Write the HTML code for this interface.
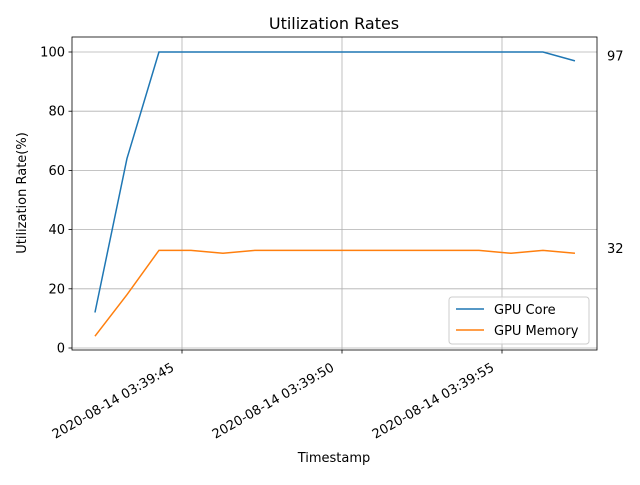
<!DOCTYPE html>
<html><head><meta charset="utf-8"><style>
body{margin:0;background:#fff;font-family:"Liberation Sans","DejaVu Sans",sans-serif;}
svg text{font-family:"DejaVu Sans","Liberation Sans",sans-serif;}
</style></head><body>
<svg id="c" width="640" height="480" xmlns="http://www.w3.org/2000/svg"></svg>
<script>
const seconds = [42.28,43.28,44.28,45.28,46.28,47.28,48.28,49.28,50.28,51.28,52.28,53.28,54.28,55.28,56.28,57.28];
const gpuCore = [12,64,100,100,100,100,100,100,100,100,100,100,100,100,100,97];
const gpuMemory = [4,18,33,33,32,33,33,33,33,33,33,33,33,32,33,32];
const xTicks = [45,50,55];
const xTickLabels = ["2020-08-14 03:39:45","2020-08-14 03:39:50","2020-08-14 03:39:55"];
const yTicks = [0,20,40,60,80,100];

const L=72,R=597,T=37,B=350;
const sx=s=>182+(s-45)*32;
const sy=v=>348-v*2.96;
const svg=document.getElementById('c');
const NS='http://www.w3.org/2000/svg';
function mk(tag,attrs,parent){const e=document.createElementNS(NS,tag);for(const k in attrs)e.setAttribute(k,attrs[k]);(parent||svg).appendChild(e);return e;}

xTicks.forEach((t,i)=>{
  const g=mk('line',{x1:sx(t),x2:sx(t),y1:T,y2:B,stroke:'#b0b0b0','stroke-width':0.8});
  
  
  mk('line',{x1:sx(t),x2:sx(t),y1:B,y2:B+3.5,stroke:'#000','stroke-width':0.8});
  const ax=sx(t)-7, ay=B+20;
  const tx=mk('text',{x:ax,y:ay,'font-size':13,'text-anchor':'end',transform:`rotate(-30 ${ax} ${ay})`});
  tx.textContent=xTickLabels[i];
  
  
});
yTicks.forEach(t=>{
  const g=mk('line',{x1:L,x2:R,y1:sy(t),y2:sy(t),stroke:'#b0b0b0','stroke-width':0.8});
  
  
  mk('line',{x1:L-3.5,x2:L,y1:sy(t),y2:sy(t),stroke:'#000','stroke-width':0.8});
  const tx=mk('text',{x:L-7,y:sy(t)+4.5,'font-size':13,'text-anchor':'end'});
  tx.textContent=t;
  
  
});
function series(vals,color,name){
  const p=mk('polyline',{points:vals.map((v,i)=>sx(seconds[i])+','+sy(v)).join(' '),fill:'none',stroke:color,'stroke-width':1.5});
  
  
}
series(gpuCore,'#1f77b4','gpu-core-line');
series(gpuMemory,'#ff7f0e','gpu-memory-line');
const fr=mk('rect',{x:L,y:T,width:R-L,height:B-T,fill:'none',stroke:'#000','stroke-width':0.8});


[[gpuCore,'gpu-core-end-label'],[gpuMemory,'gpu-memory-end-label']].forEach(([a,n])=>{
  const v=a[a.length-1];
  const tx=mk('text',{x:607,y:sy(v)-0.5,'font-size':13});
  tx.textContent=v;
  
  
});
</script>
<svg style="position:absolute;left:0;top:0" width="640" height="480">
<text x="334" y="29" font-size="16" text-anchor="middle">Utilization Rates</text>
<text x="334" y="462" font-size="13" text-anchor="middle">Timestamp</text>
<text x="26" y="193" font-size="13" text-anchor="middle" transform="rotate(-90 26 193)">Utilization Rate(%)</text>
<g>
<rect x="449" y="297" width="140" height="47" rx="3" fill="#fff" fill-opacity="0.8" stroke="#ccc"/>
<line x1="456" y1="309" x2="484" y2="309" stroke="#1f77b4" stroke-width="1.5"/>
<text x="494" y="314" font-size="13">GPU Core</text>
<line x1="456" y1="330" x2="484" y2="330" stroke="#ff7f0e" stroke-width="1.5"/>
<text x="494" y="335" font-size="13">GPU Memory</text>
</g>
</svg>
</body></html>
